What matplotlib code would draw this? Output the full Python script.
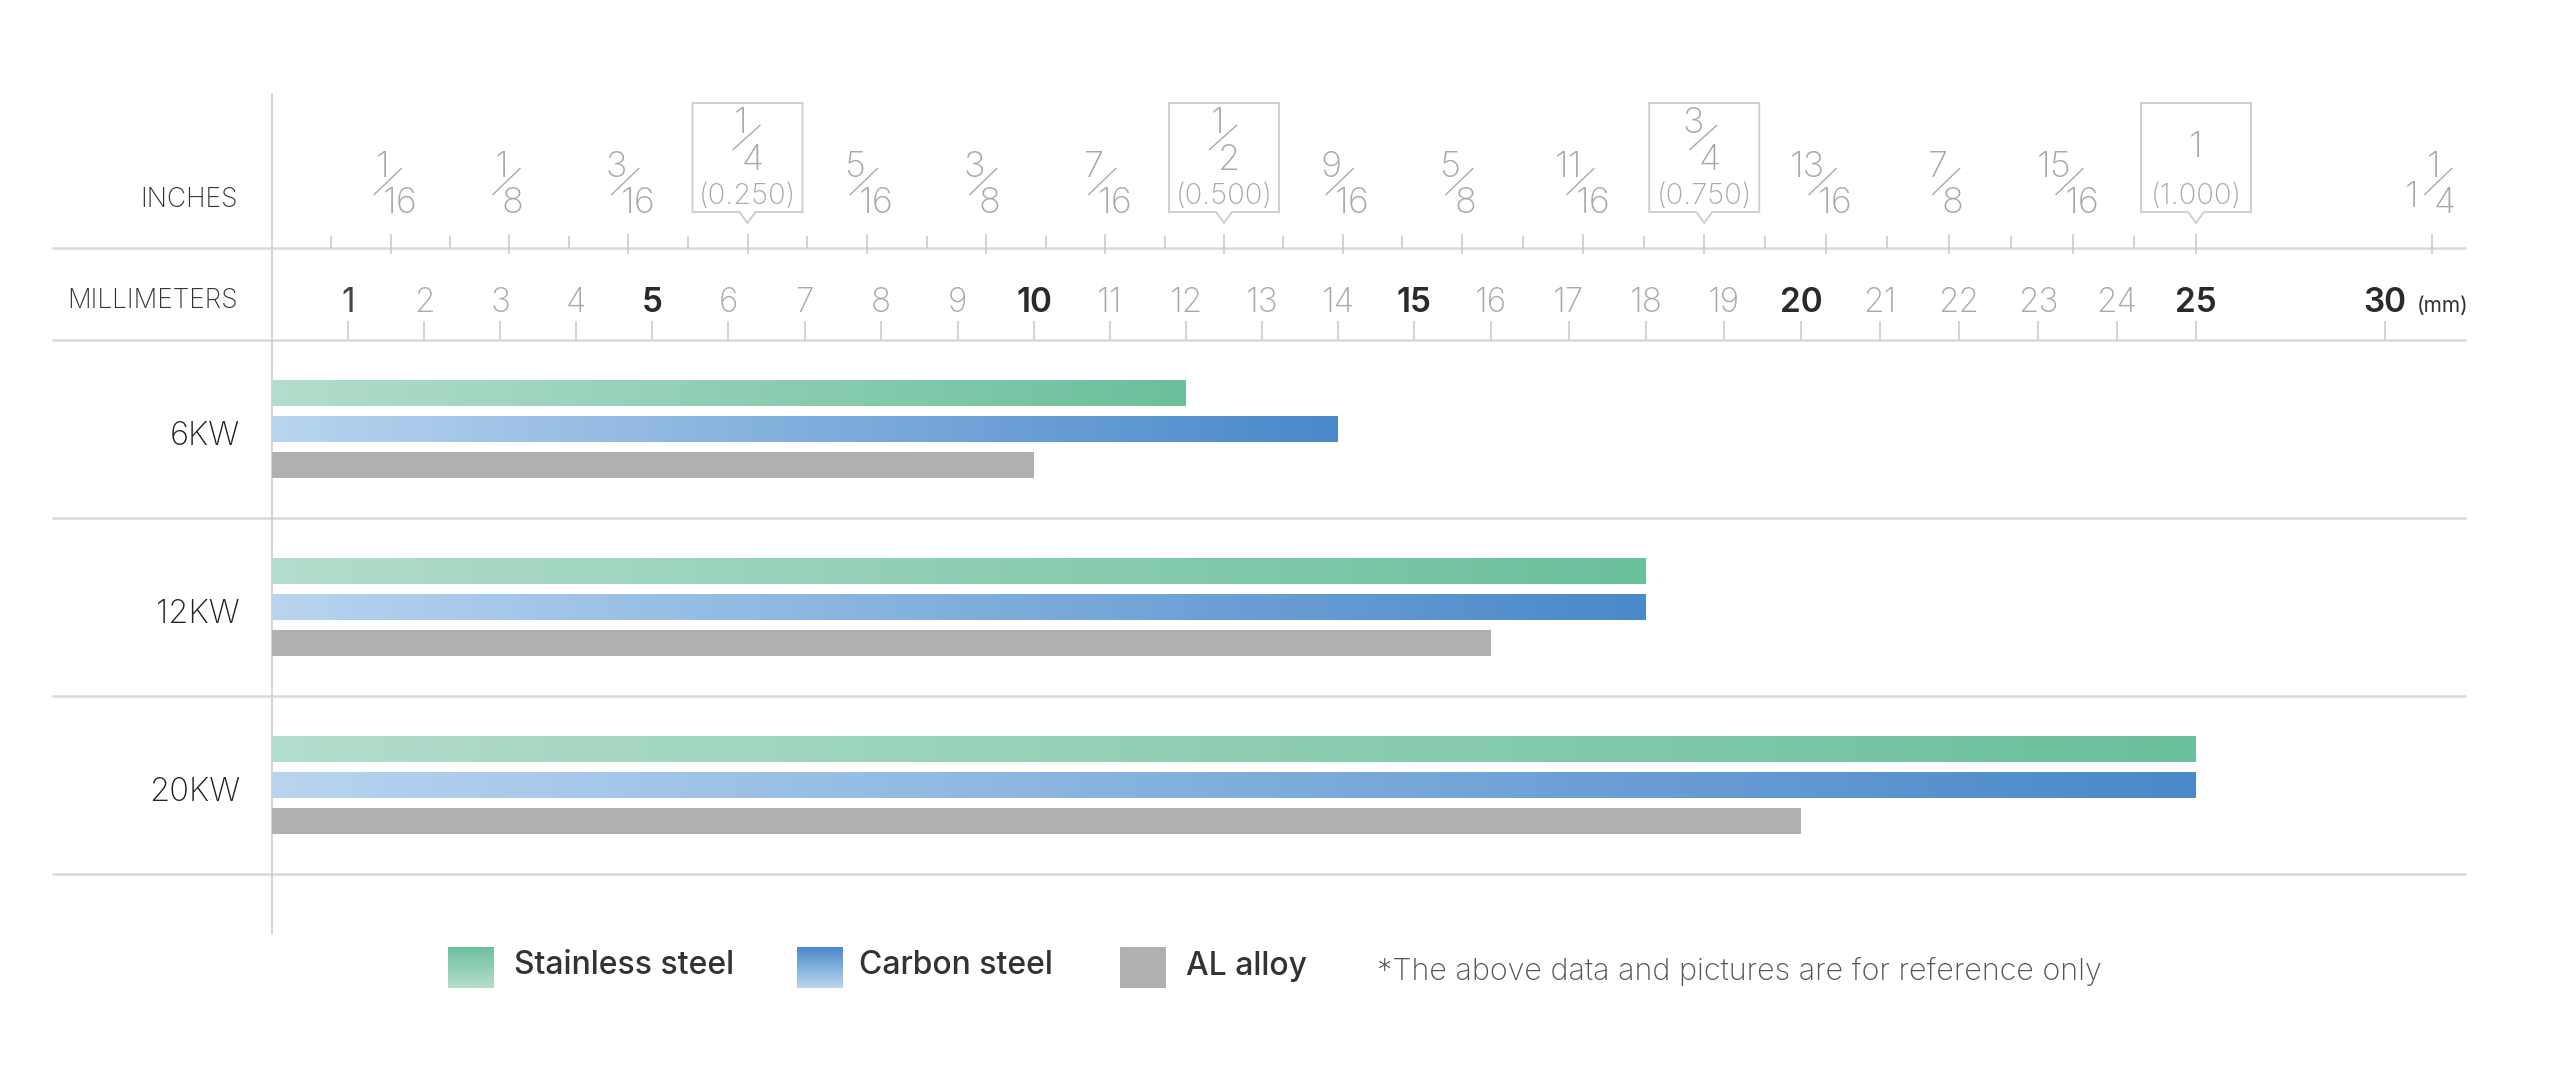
import numpy as np
import matplotlib
matplotlib.use("Agg")
import matplotlib.pyplot as plt
from matplotlib.patches import Polygon
from matplotlib.colors import LinearSegmentedColormap

plt.rcParams['font.family'] = ['Inter', 'DejaVu Sans']

# ---- data ----
powers = ["6KW", "12KW", "20KW"]
materials = ["Stainless steel", "Carbon steel", "AL alloy"]
stainless = [12, 18, 25]
carbon = [14, 18, 25]
al_alloy = [10, 16, 20]

mm_ticks = list(range(1, 26)) + [30]
mm_bold = [5, 10, 15, 20, 25, 30]

inch_label_vals = [1/16, 1/8, 3/16, 1/4, 5/16, 3/8, 7/16, 1/2, 9/16,
                   5/8, 11/16, 3/4, 13/16, 7/8, 15/16, 1.0, 1.25]
inch_label_text = [("", "1", "16"), ("", "1", "8"), ("", "3", "16"),
                   ("", "1", "4"), ("", "5", "16"), ("", "3", "8"),
                   ("", "7", "16"), ("", "1", "2"), ("", "9", "16"),
                   ("", "5", "8"), ("", "11", "16"), ("", "3", "4"),
                   ("", "13", "16"), ("", "7", "8"), ("", "15", "16"),
                   ("1", "", ""), ("1", "1", "4")]
inch_boxed = {0.25: "(0.250)", 0.5: "(0.500)", 0.75: "(0.750)", 1.0: "(1.000)"}
INCH_AT_MM = 25  # the chart puts the 1 inch mark on the 25 mm mark

colors = {
    "Stainless steel": ("#b3ddcc", "#6bc09c"),
    "Carbon steel": ("#b8d4ef", "#4a89ca"),
    "AL alloy": ("#b0b0b2", "#b0b0b2"),
}

# ---- ruler scale: mm -> figure pixels (1 inch block drawn on 25 mm, 30 mm squeezed) ----
MM_KNOTS = np.array([0, 5, 10, 15, 20, 25, 30], dtype=float)
PX_KNOTS = np.array([272, 652, 1034, 1414, 1801, 2196, 2385], dtype=float)


def _pw(x, xs, ys):
    x = np.asarray(x, dtype=float)
    y = np.interp(x, xs, ys)
    s_lo = (ys[1] - ys[0]) / (xs[1] - xs[0])
    s_hi = (ys[-1] - ys[-2]) / (xs[-1] - xs[-2])
    y = np.where(x < xs[0], ys[0] + (x - xs[0]) * s_lo, y)
    y = np.where(x > xs[-1], ys[-1] + (x - xs[-1]) * s_hi, y)
    return y


def fwd(x):
    return _pw(x, MM_KNOTS, PX_KNOTS)


def inv(p):
    return _pw(p, PX_KNOTS, MM_KNOTS)


def shift(mm, dx):
    """mm position moved by dx pixels."""
    return float(inv(fwd(mm) + dx))


W, H = 2560, 1068
fig = plt.figure(figsize=(W / 100, H / 100), dpi=100)
ax = fig.add_axes([0, 0, 1, 1])
ax.set_xscale('function', functions=(fwd, inv))
ax.axis('off')

RULE = "#d9d9d9"
TICK = "#c8c8c8"
GREY_TXT = "#a9a9a9"
FRAC = 26

band_top = 340
band_h = 178
centers = [band_top + band_h * (i + 0.5) for i in range(len(powers))]
x_left, x_right = float(inv(52)), float(inv(2466))

# rules
ax.hlines([248] + [band_top + band_h * i for i in range(len(powers) + 1)],
          x_left, x_right, color=RULE, lw=1.8)
ax.vlines(0, 93, 935, color="#cccccc", lw=1.1)

# inch ticks
for k in range(1, 33):
    pos = k / 32 * INCH_AT_MM
    if k % 2:
        ax.vlines(pos, 236, 248, color=TICK, lw=1.1)
    else:
        ax.vlines(pos, 234, 254, color=TICK, lw=1.1)
ax.vlines(1.25 * INCH_AT_MM, 234, 254, color=TICK, lw=1.1)

# inch labels
for val, (whole, num, den) in zip(inch_label_vals, inch_label_text):
    pos = val * INCH_AT_MM
    if val in inch_boxed:
        box = [(-55, 103), (55, 103), (55, 212), (8, 212), (0, 223), (-8, 212), (-55, 212)]
        ax.add_patch(Polygon([(shift(pos, dx), y) for dx, y in box], closed=True,
                             facecolor="white", edgecolor="#cfcfcf", lw=1.4))
        ax.text(pos, 204, inch_boxed[val], ha='center', va='baseline',
                fontsize=21, color=GREY_TXT, fontweight='light')
        if num:
            sc, sy = -1, 137.5
            ax.plot([shift(pos, sc - 14), shift(pos, sc + 14)], [sy + 12.5, sy - 12.5],
                    color=GREY_TXT, lw=1.0, solid_capstyle='butt')
            ax.text(shift(pos, sc + 1), 133, num, ha='right', va='baseline',
                    fontsize=FRAC, color=GREY_TXT, fontweight='light')
            ax.text(shift(pos, sc - 5), 170, den, ha='left', va='baseline',
                    fontsize=FRAC, color=GREY_TXT, fontweight='light')
        else:
            ax.text(pos, 157, whole, ha='center', va='baseline',
                    fontsize=FRAC, color=GREY_TXT, fontweight='light')
        continue
    sc = 6 if whole else -3
    sy = 181.5
    ax.plot([shift(pos, sc - 14), shift(pos, sc + 14)], [sy + 13.5, sy - 13.5],
            color=GREY_TXT, lw=1.0, solid_capstyle='butt')
    ax.text(shift(pos, sc + 2), 177, num, ha='right', va='baseline',
            fontsize=FRAC, color=GREY_TXT, fontweight='light')
    ax.text(shift(pos, sc - 5), 213, den, ha='left', va='baseline',
            fontsize=FRAC, color=GREY_TXT, fontweight='light')
    if whole:
        ax.text(shift(pos, sc - 20), 207, whole, ha='right', va='baseline',
                fontsize=FRAC, color=GREY_TXT, fontweight='light')

# mm ticks and labels
ax.vlines(mm_ticks, 321, 340, color=TICK, lw=1.1)
for m in mm_ticks:
    if m in mm_bold:
        ax.text(m, 312, str(m), ha='center', va='baseline', fontsize=24,
                color="#2a2a2a", fontweight='semibold')
    elif m == 1:
        ax.text(m, 312, str(m), ha='center', va='baseline', fontsize=24,
                color="#444444", fontweight='normal')
    else:
        ax.text(m, 312, str(m), ha='center', va='baseline', fontsize=24,
                color=GREY_TXT, fontweight='light')
ax.text(shift(30, 32), 312, "(mm)", ha='left', va='baseline', fontsize=15, color="#333333")

ax.text(float(inv(238)), 207, "INCHES", ha='right', va='baseline',
        fontsize=19, color="#333333", fontweight='light')
ax.text(float(inv(238)), 308, "MILLIMETERS", ha='right', va='baseline',
        fontsize=19, color="#333333", fontweight='light')

# bars
offsets = [-36, 0, 36]
series = [stainless, carbon, al_alloy]
for mat, vals, off in zip(materials, series, offsets):
    cmap = LinearSegmentedColormap.from_list(mat, colors[mat])
    bars = ax.barh([c + off for c in centers], vals, height=26, left=0,
                   color='none', edgecolor='none')
    for rect in bars:
        x0, y0 = rect.get_x(), rect.get_y()
        w, h = rect.get_width(), rect.get_height()
        ax.imshow(np.linspace(0, 1, 256)[None, :], cmap=cmap, aspect='auto',
                  extent=[x0, x0 + w, y0 + h, y0], interpolation='bilinear',
                  clip_path=rect, zorder=2)

for lab, c in zip(powers, centers):
    ax.text(float(inv(240)), c + 16, lab, ha='right', va='baseline',
            fontsize=23.5, color="#222222", fontweight='light')

# legend
sw_x = [448, 797, 1120]
txt_x = [514, 859, 1186]
for mat, sx, tx in zip(materials, sw_x, txt_x):
    cmap = LinearSegmentedColormap.from_list(mat + "_v", colors[mat])
    ax.imshow(np.linspace(1, 0, 64)[:, None], cmap=cmap, aspect='auto',
              extent=[float(inv(sx)), float(inv(sx + 46)), 988, 947],
              origin='upper', interpolation='bilinear', zorder=2)
    ax.text(float(inv(tx)), 966, mat, ha='left', va='center', fontsize=23,
            color="#333333", fontweight='medium')
ax.text(float(inv(1377)), 971, "*The above data and pictures are for reference only",
        ha='left', va='center', fontsize=22, color="#555555", fontweight='light')

ax.set_xlim(float(inv(0)), float(inv(W)))
ax.set_ylim(H, 0)

fig.savefig("out.png", dpi=100, facecolor="white")
